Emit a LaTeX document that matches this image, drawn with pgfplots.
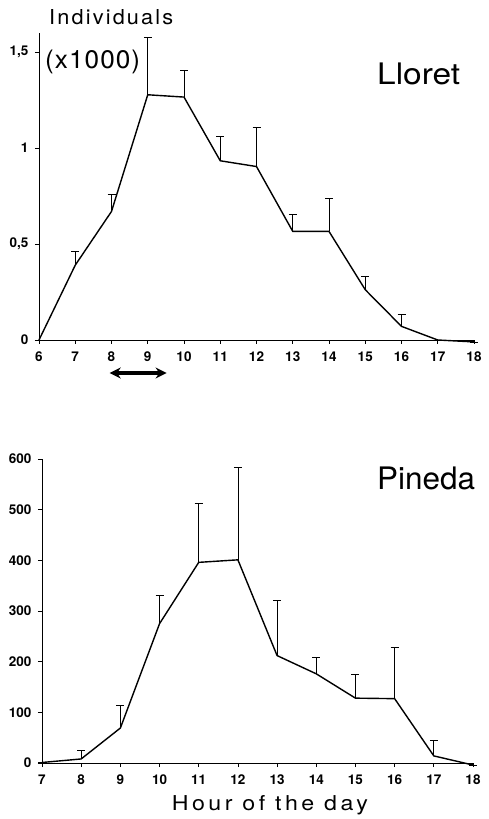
\documentclass[border=0pt]{standalone}
\usepackage{fontspec}
\setmainfont{TeX Gyre Heros}
\usepackage{graphicx}
\usepackage{pgfplots}
\pgfplotsset{compat=1.18}
\usetikzlibrary{arrows.meta}

% hourly counts, value and upper error
\pgfplotstableread{
h  v     e
6  0     0
7  0.39  0.07
8  0.67  0.09
9  1.278 0.30
10 1.266 0.138
11 0.934 0.126
12 0.904 0.205
13 0.566 0.09
14 0.566 0.17
15 0.262 0.069
16 0.071 0.064
17 0     0
18 -0.01 0
}\lloret
\pgfplotstableread{
h  v    e
7  1    0
8  8    17
9  69   45
10 275  56
11 396  116
12 401  183
13 212  109
14 176  33
15 128  46
16 127  102
17 14   30
18 -4   0
}\pineda

\pgfplotsset{
  panel/.style={
    scale only axis,
    axis lines=left,
    axis line style={-, line width=0.8pt},
    tick align=outside,
    major tick length=4pt,
    tick style={line width=0.8pt, black},
    clip=false,
    /pgf/number format/assume math mode=true,
    /pgf/number format/use comma,
    tick label style={font=\fontsize{13.5}{13.5}\selectfont\bfseries},
    xtick distance=1,
    xticklabel style={yshift=-4pt},
    yticklabel style={xshift=-3pt},
  },
  curve/.style={black, line width=1.4pt, mark=none,
    error bars/.cd, y dir=plus, y explicit,
    error bar style={line width=0.7pt},
    error mark options={rotate=90, line width=0.7pt, mark size=4pt}},
}

% text sized to the reference: width, cap height
\newcommand\sized[3]{\resizebox{#1}{#2}{#3}}

\begin{document}
\begin{tikzpicture}
\useasboundingbox (0,0) rectangle (488pt,819pt);

\begin{axis}[panel,
  at={(39pt,479pt)}, anchor=south west,
  width=435pt, height=307pt,
  xmin=6, xmax=18, ymin=0, ymax=1.6,
  ytick={0,0.5,1,1.5},
]
\addplot[curve] table[x=h, y=v, y error=e] {\lloret};
\draw[{Stealth[length=11pt,width=11pt]}-{Stealth[length=11pt,width=11pt]}, line width=3.2pt]
  (axis cs:7.95,-0.172) -- (axis cs:9.52,-0.172);
\end{axis}

\begin{axis}[panel,
  at={(42pt,56pt)}, anchor=south west,
  width=431pt, height=304pt,
  xmin=7, xmax=18, ymin=0, ymax=600,
  ytick={0,100,...,600},
]
\addplot[curve] table[x=h, y=v, y error=e] {\pineda};
\end{axis}

\tikzset{lbl/.style={anchor=base west, inner sep=0pt}}
\node[lbl] at (49pt,794pt) {\sized{124pt}{15pt}{\addfontfeature{LetterSpace=10}Individuals}};
\node[lbl] at (45pt,750.5pt) {\sized{95pt}{18.5pt}{\addfontfeature{LetterSpace=4}(x1000)}};
\node[lbl] at (377pt,734.7pt) {\sized{83pt}{21.6pt}{Lloret}};
\node[lbl] at (377pt,329.7pt) {\sized{98pt}{22.6pt}{Pineda}};
\node[lbl] at (171.7pt,9pt) {\sized{196pt}{15pt}{\addfontfeature{LetterSpace=15}Hour of the day}};
\end{tikzpicture}
\end{document}
